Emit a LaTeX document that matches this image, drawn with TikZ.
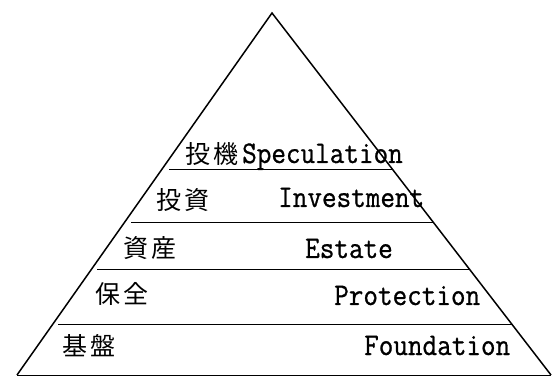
\documentclass[tikz,border=0pt]{standalone}
\usepackage{fontspec}
\newfontfamily\cjk{Noto Sans CJK JP}
\newfontfamily\latmono[FakeStretch=0.9,FakeBold=0.8]{Latin Modern Mono}
\tikzset{
  edge/.style={line width=1.5pt, line join=miter},
  rule/.style={line width=0.9pt},
  cj/.style={anchor=base west, inner sep=0pt, font=\cjk\fontsize{25}{25}\selectfont},
  lt/.style={anchor=base west, inner sep=0pt, font=\latmono\fontsize{31.5}{32}\selectfont}
}
\begin{document}
\begin{tikzpicture}[x=1pt,y=-1pt]
\useasboundingbox (0,0) rectangle (554,379);
% triangle
\coordinate (apex) at (272,13);
\coordinate (bl) at (17,375);
\coordinate (br) at (551,375);
\draw[edge] (bl) -- (apex) -- (br);
\draw[rule] (bl) -- (br);
% layer lines
\coordinate (l1a) at (169,169); \coordinate (l1b) at (393,169);
\coordinate (l2a) at (131,222); \coordinate (l2b) at (433,222);
\coordinate (l3a) at (97,269);  \coordinate (l3b) at (470,269);
\coordinate (l4a) at (58,324);  \coordinate (l4b) at (513,324);
\draw[rule] (l1a) -- (l1b);
\draw[rule] (l2a) -- (l2b);
\draw[rule] (l3a) -- (l3b);
\draw[rule] (l4a) -- (l4b);
% labels
\node[cj] (j1) at (185,164) {投\hspace{3pt}機};
\node[lt] (e1) at (242,163) {Speculation};
\node[cj] (j2) at (156,210) {投\hspace{3pt}資};
\node[lt] (e2) at (278,207) {Investment};
\node[cj] (j3) at (123,258) {資\hspace{3pt}産};
\node[lt] (e3) at (305,258) {Estate};
\node[cj] (j4) at (95,304) {保\hspace{3pt}全};
\node[lt] (e4) at (334,305) {Protection};
\node[cj] (j5) at (62,355) {基\hspace{3pt}盤};
\node[lt] (e5) at (364,355) {Foundation};
\end{tikzpicture}
\end{document}
